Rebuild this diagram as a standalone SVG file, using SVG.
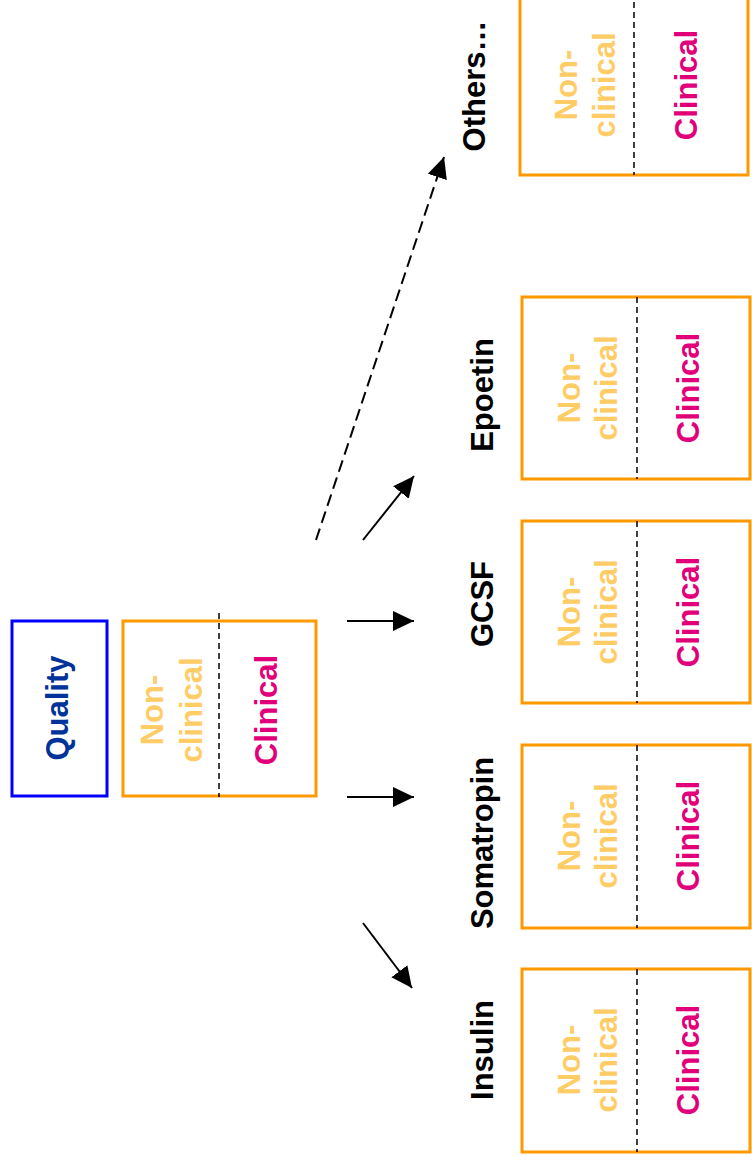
<svg xmlns="http://www.w3.org/2000/svg" width="752" height="1164" viewBox="0 0 752 1164">
  <style>
    text { font-family: "Liberation Sans", Arial, sans-serif; font-weight: bold; font-size: 31px; text-anchor: middle; }
    .box { fill: #FFFFFF; stroke: #FF9900; stroke-width: 3; }
    .quality { fill: #FFFFFF; stroke: #0000FF; stroke-width: 3; }
    .divider { stroke: #000000; stroke-width: 1.5; stroke-dasharray: 6 4; fill: none; }
    .nonclin { fill: #FFCC66; }
    .clin { fill: #E2007A; }
    .label { fill: #000000; }
    .qtext { fill: #003399; }
    .arrow { stroke: #000000; stroke-width: 2; fill: none; marker-end: url(#head); }
    .dashed { stroke-dasharray: 12 6; }
  </style>
  <defs>
    <marker id="head" markerUnits="userSpaceOnUse" markerWidth="22" markerHeight="22" viewBox="0 0 22 22" refX="21" refY="11" orient="auto">
      <path d="M0,1 L21,11 L0,21 Z" fill="#000000"/>
    </marker>
  </defs>

  <!-- Quality -->
  <g id="quality">
    <rect class="quality" x="12" y="621" width="95" height="175"/>
    <text class="qtext" transform="translate(68,708) rotate(-90)">Quality</text>
  </g>

  <!-- Reference product: non-clinical / clinical -->
  <g id="reference">
    <rect class="box" x="123" y="621" width="193" height="175"/>
    <line class="divider" x1="219" y1="613" x2="219" y2="797"/>
    <text class="nonclin" transform="translate(163,710) rotate(-90)"><tspan x="0" y="0">Non-</tspan><tspan x="0" y="39">clinical</tspan></text>
    <text class="clin" transform="translate(277,710) rotate(-90)">Clinical</text>
  </g>

  <!-- Connectors -->
  <g id="connectors">
    <line class="arrow dashed" x1="316" y1="540" x2="444" y2="157"/>
    <line class="arrow" x1="363" y1="540" x2="414" y2="476"/>
    <line class="arrow" x1="347" y1="621" x2="414" y2="621"/>
    <line class="arrow" x1="347" y1="797" x2="414" y2="797"/>
    <line class="arrow" x1="363" y1="923" x2="412" y2="988"/>
  </g>

  <!-- Others -->
  <g id="others">
    <text class="label" transform="translate(485,86) rotate(-90)">Others…</text>
    <rect class="box" x="520" y="-8" width="228" height="183"/>
    <line class="divider" x1="634" y1="-8" x2="634" y2="175"/>
    <text class="nonclin" transform="translate(577,85) rotate(-90)"><tspan x="0" y="0">Non-</tspan><tspan x="0" y="38">clinical</tspan></text>
    <text class="clin" transform="translate(697,85) rotate(-90)">Clinical</text>
  </g>

  <!-- Epoetin -->
  <g id="epoetin">
    <text class="label" transform="translate(493,395) rotate(-90)">Epoetin</text>
    <rect class="box" x="522" y="297" width="228" height="182"/>
    <line class="divider" x1="637" y1="297" x2="637" y2="479"/>
    <text class="nonclin" transform="translate(580,388) rotate(-90)"><tspan x="0" y="0">Non-</tspan><tspan x="0" y="37">clinical</tspan></text>
    <text class="clin" transform="translate(699,388) rotate(-90)">Clinical</text>
  </g>

  <!-- GCSF -->
  <g id="gcsf">
    <text class="label" transform="translate(493,604) rotate(-90)">GCSF</text>
    <rect class="box" x="522" y="521" width="228" height="182"/>
    <line class="divider" x1="637" y1="521" x2="637" y2="703"/>
    <text class="nonclin" transform="translate(580,612) rotate(-90)"><tspan x="0" y="0">Non-</tspan><tspan x="0" y="37">clinical</tspan></text>
    <text class="clin" transform="translate(699,612) rotate(-90)">Clinical</text>
  </g>

  <!-- Somatropin -->
  <g id="somatropin">
    <text class="label" transform="translate(493,843) rotate(-90)">Somatropin</text>
    <rect class="box" x="522" y="745" width="228" height="183"/>
    <line class="divider" x1="637" y1="745" x2="637" y2="928"/>
    <text class="nonclin" transform="translate(580,836) rotate(-90)"><tspan x="0" y="0">Non-</tspan><tspan x="0" y="37">clinical</tspan></text>
    <text class="clin" transform="translate(699,836) rotate(-90)">Clinical</text>
  </g>

  <!-- Insulin -->
  <g id="insulin">
    <text class="label" transform="translate(493,1050) rotate(-90)">Insulin</text>
    <rect class="box" x="522" y="969" width="228" height="183"/>
    <line class="divider" x1="637" y1="969" x2="637" y2="1152"/>
    <text class="nonclin" transform="translate(580,1060) rotate(-90)"><tspan x="0" y="0">Non-</tspan><tspan x="0" y="37">clinical</tspan></text>
    <text class="clin" transform="translate(699,1060) rotate(-90)">Clinical</text>
  </g>
</svg>
